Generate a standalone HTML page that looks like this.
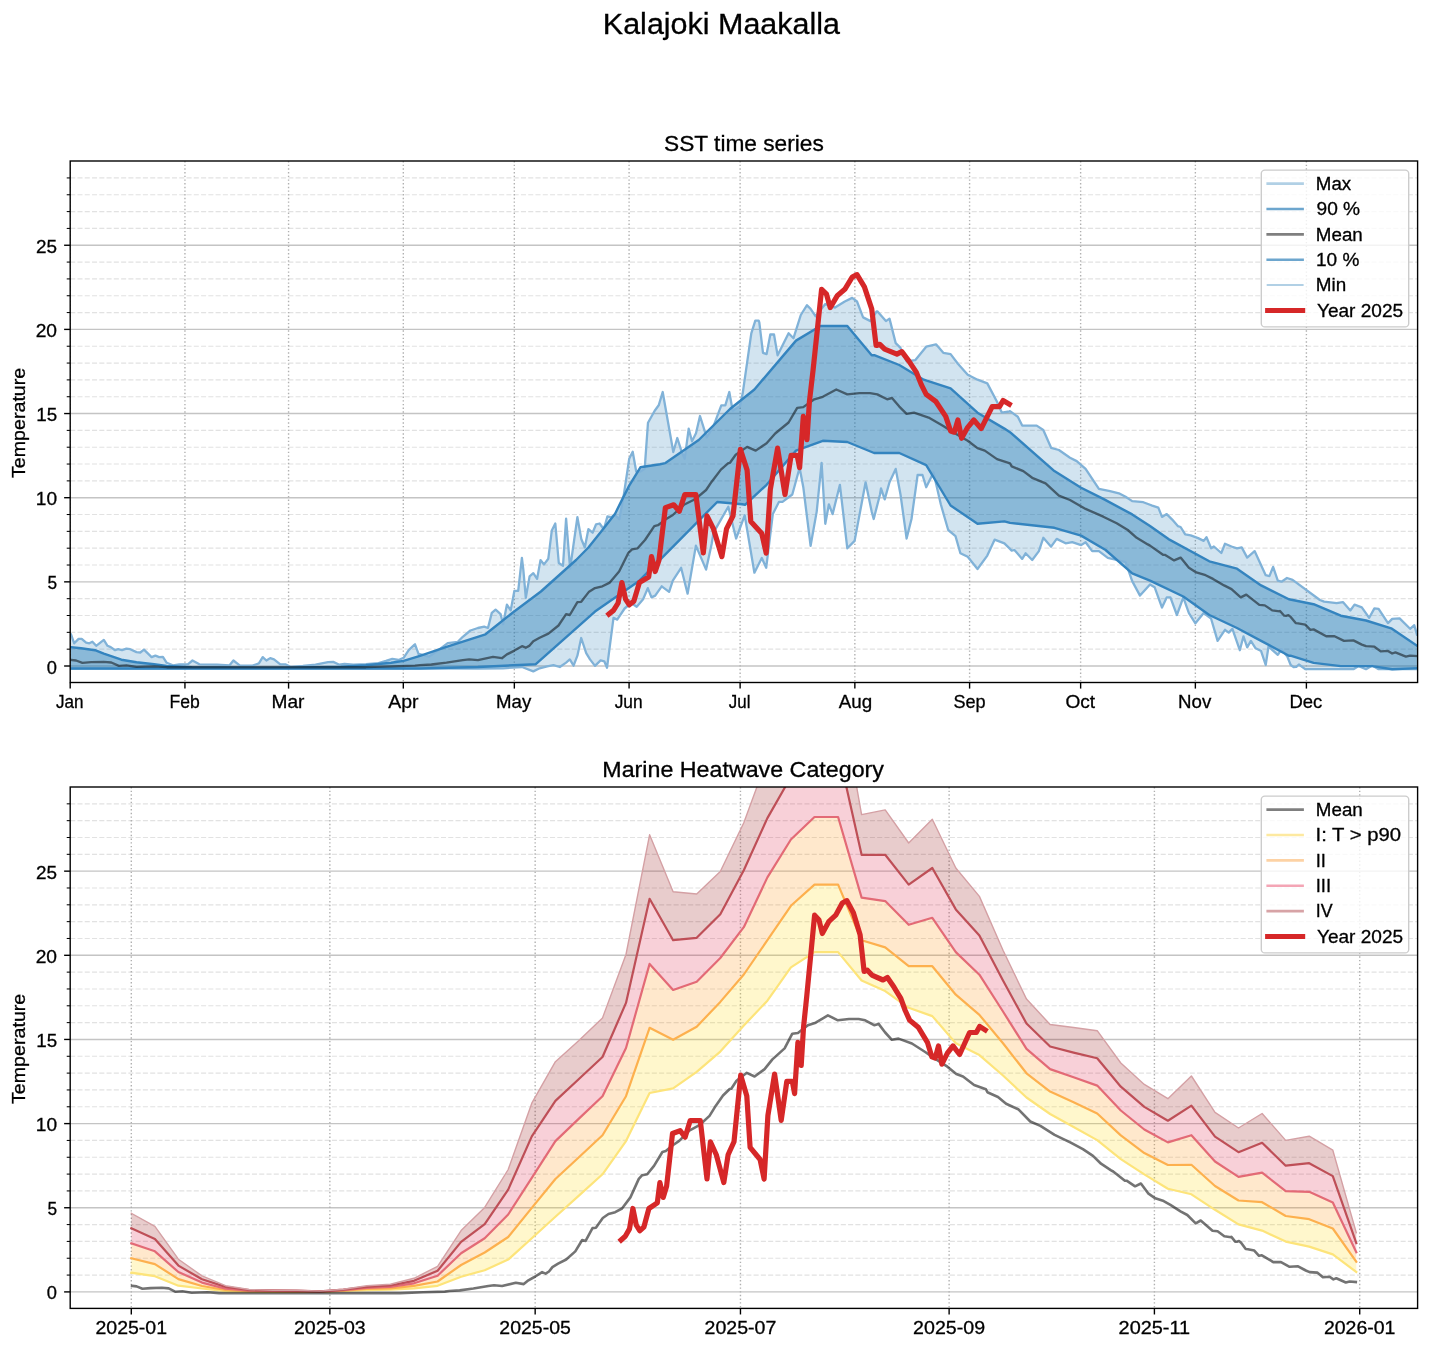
<!DOCTYPE html><html><head><meta charset="utf-8"><style>
html,body{margin:0;padding:0;background:#fff;}
svg{display:block;will-change:transform;}
text{font-family:"Liberation Sans",sans-serif;stroke:#000;stroke-width:0.3px;}
</style></head><body>
<svg width="1430" height="1350" viewBox="0 0 1430 1350">
<rect width="1430" height="1350" fill="#fff"/>
<defs>
<clipPath id="ct"><rect x="70.2" y="161.0" width="1347.3999999999999" height="521.5"/></clipPath>
<clipPath id="cb"><rect x="70.2" y="787.0" width="1347.3999999999999" height="521.4000000000001"/></clipPath>
</defs>
<text transform="translate(602.85,33.50) scale(1.0354,1)" font-size="29.44" fill="#000">Kalajoki Maakalla</text>
<text transform="translate(664.05,151.20) scale(1.0337,1)" font-size="21.96" fill="#000">SST time series</text>
<g clip-path="url(#ct)">
<line x1="70.2" x2="1417.6" y1="666.00" y2="666.00" stroke="#b0b0b0" stroke-opacity="0.75" stroke-width="1.39"/>
<line x1="70.2" x2="1417.6" y1="649.17" y2="649.17" stroke="#b0b0b0" stroke-opacity="0.36" stroke-width="1.15" stroke-dasharray="5.05 2.22"/>
<line x1="70.2" x2="1417.6" y1="632.34" y2="632.34" stroke="#b0b0b0" stroke-opacity="0.36" stroke-width="1.15" stroke-dasharray="5.05 2.22"/>
<line x1="70.2" x2="1417.6" y1="615.51" y2="615.51" stroke="#b0b0b0" stroke-opacity="0.36" stroke-width="1.15" stroke-dasharray="5.05 2.22"/>
<line x1="70.2" x2="1417.6" y1="598.68" y2="598.68" stroke="#b0b0b0" stroke-opacity="0.36" stroke-width="1.15" stroke-dasharray="5.05 2.22"/>
<line x1="70.2" x2="1417.6" y1="581.85" y2="581.85" stroke="#b0b0b0" stroke-opacity="0.75" stroke-width="1.39"/>
<line x1="70.2" x2="1417.6" y1="565.02" y2="565.02" stroke="#b0b0b0" stroke-opacity="0.36" stroke-width="1.15" stroke-dasharray="5.05 2.22"/>
<line x1="70.2" x2="1417.6" y1="548.19" y2="548.19" stroke="#b0b0b0" stroke-opacity="0.36" stroke-width="1.15" stroke-dasharray="5.05 2.22"/>
<line x1="70.2" x2="1417.6" y1="531.36" y2="531.36" stroke="#b0b0b0" stroke-opacity="0.36" stroke-width="1.15" stroke-dasharray="5.05 2.22"/>
<line x1="70.2" x2="1417.6" y1="514.53" y2="514.53" stroke="#b0b0b0" stroke-opacity="0.36" stroke-width="1.15" stroke-dasharray="5.05 2.22"/>
<line x1="70.2" x2="1417.6" y1="497.70" y2="497.70" stroke="#b0b0b0" stroke-opacity="0.75" stroke-width="1.39"/>
<line x1="70.2" x2="1417.6" y1="480.87" y2="480.87" stroke="#b0b0b0" stroke-opacity="0.36" stroke-width="1.15" stroke-dasharray="5.05 2.22"/>
<line x1="70.2" x2="1417.6" y1="464.04" y2="464.04" stroke="#b0b0b0" stroke-opacity="0.36" stroke-width="1.15" stroke-dasharray="5.05 2.22"/>
<line x1="70.2" x2="1417.6" y1="447.21" y2="447.21" stroke="#b0b0b0" stroke-opacity="0.36" stroke-width="1.15" stroke-dasharray="5.05 2.22"/>
<line x1="70.2" x2="1417.6" y1="430.38" y2="430.38" stroke="#b0b0b0" stroke-opacity="0.36" stroke-width="1.15" stroke-dasharray="5.05 2.22"/>
<line x1="70.2" x2="1417.6" y1="413.55" y2="413.55" stroke="#b0b0b0" stroke-opacity="0.75" stroke-width="1.39"/>
<line x1="70.2" x2="1417.6" y1="396.72" y2="396.72" stroke="#b0b0b0" stroke-opacity="0.36" stroke-width="1.15" stroke-dasharray="5.05 2.22"/>
<line x1="70.2" x2="1417.6" y1="379.89" y2="379.89" stroke="#b0b0b0" stroke-opacity="0.36" stroke-width="1.15" stroke-dasharray="5.05 2.22"/>
<line x1="70.2" x2="1417.6" y1="363.06" y2="363.06" stroke="#b0b0b0" stroke-opacity="0.36" stroke-width="1.15" stroke-dasharray="5.05 2.22"/>
<line x1="70.2" x2="1417.6" y1="346.23" y2="346.23" stroke="#b0b0b0" stroke-opacity="0.36" stroke-width="1.15" stroke-dasharray="5.05 2.22"/>
<line x1="70.2" x2="1417.6" y1="329.40" y2="329.40" stroke="#b0b0b0" stroke-opacity="0.75" stroke-width="1.39"/>
<line x1="70.2" x2="1417.6" y1="312.57" y2="312.57" stroke="#b0b0b0" stroke-opacity="0.36" stroke-width="1.15" stroke-dasharray="5.05 2.22"/>
<line x1="70.2" x2="1417.6" y1="295.74" y2="295.74" stroke="#b0b0b0" stroke-opacity="0.36" stroke-width="1.15" stroke-dasharray="5.05 2.22"/>
<line x1="70.2" x2="1417.6" y1="278.91" y2="278.91" stroke="#b0b0b0" stroke-opacity="0.36" stroke-width="1.15" stroke-dasharray="5.05 2.22"/>
<line x1="70.2" x2="1417.6" y1="262.08" y2="262.08" stroke="#b0b0b0" stroke-opacity="0.36" stroke-width="1.15" stroke-dasharray="5.05 2.22"/>
<line x1="70.2" x2="1417.6" y1="245.25" y2="245.25" stroke="#b0b0b0" stroke-opacity="0.75" stroke-width="1.39"/>
<line x1="70.2" x2="1417.6" y1="228.42" y2="228.42" stroke="#b0b0b0" stroke-opacity="0.36" stroke-width="1.15" stroke-dasharray="5.05 2.22"/>
<line x1="70.2" x2="1417.6" y1="211.59" y2="211.59" stroke="#b0b0b0" stroke-opacity="0.36" stroke-width="1.15" stroke-dasharray="5.05 2.22"/>
<line x1="70.2" x2="1417.6" y1="194.76" y2="194.76" stroke="#b0b0b0" stroke-opacity="0.36" stroke-width="1.15" stroke-dasharray="5.05 2.22"/>
<line x1="70.2" x2="1417.6" y1="177.93" y2="177.93" stroke="#b0b0b0" stroke-opacity="0.36" stroke-width="1.15" stroke-dasharray="5.05 2.22"/>
<line x1="70.20" x2="70.20" y1="161.0" y2="682.5" stroke="#b0b0b0" stroke-opacity="1" stroke-width="1.39" stroke-dasharray="1.39 2.29"/>
<line x1="184.94" x2="184.94" y1="161.0" y2="682.5" stroke="#b0b0b0" stroke-opacity="1" stroke-width="1.39" stroke-dasharray="1.39 2.29"/>
<line x1="288.57" x2="288.57" y1="161.0" y2="682.5" stroke="#b0b0b0" stroke-opacity="1" stroke-width="1.39" stroke-dasharray="1.39 2.29"/>
<line x1="403.31" x2="403.31" y1="161.0" y2="682.5" stroke="#b0b0b0" stroke-opacity="1" stroke-width="1.39" stroke-dasharray="1.39 2.29"/>
<line x1="514.34" x2="514.34" y1="161.0" y2="682.5" stroke="#b0b0b0" stroke-opacity="1" stroke-width="1.39" stroke-dasharray="1.39 2.29"/>
<line x1="629.08" x2="629.08" y1="161.0" y2="682.5" stroke="#b0b0b0" stroke-opacity="1" stroke-width="1.39" stroke-dasharray="1.39 2.29"/>
<line x1="740.12" x2="740.12" y1="161.0" y2="682.5" stroke="#b0b0b0" stroke-opacity="1" stroke-width="1.39" stroke-dasharray="1.39 2.29"/>
<line x1="854.85" x2="854.85" y1="161.0" y2="682.5" stroke="#b0b0b0" stroke-opacity="1" stroke-width="1.39" stroke-dasharray="1.39 2.29"/>
<line x1="969.59" x2="969.59" y1="161.0" y2="682.5" stroke="#b0b0b0" stroke-opacity="1" stroke-width="1.39" stroke-dasharray="1.39 2.29"/>
<line x1="1080.63" x2="1080.63" y1="161.0" y2="682.5" stroke="#b0b0b0" stroke-opacity="1" stroke-width="1.39" stroke-dasharray="1.39 2.29"/>
<line x1="1195.36" x2="1195.36" y1="161.0" y2="682.5" stroke="#b0b0b0" stroke-opacity="1" stroke-width="1.39" stroke-dasharray="1.39 2.29"/>
<line x1="1306.40" x2="1306.40" y1="161.0" y2="682.5" stroke="#b0b0b0" stroke-opacity="1" stroke-width="1.39" stroke-dasharray="1.39 2.29"/>
<path d="M71.0,634.5 L74.2,643.3 L78.6,638.9 L81.7,638.9 L86.1,642.7 L89.3,643.3 L92.4,641.7 L96.2,645.8 L103.8,639.9 L107.5,645.8 L110.7,647.1 L115.1,650.2 L118.2,649.2 L122.0,650.2 L126.4,648.7 L130.2,649.2 L136.5,652.1 L140.3,652.5 L144.0,649.6 L151.6,657.1 L155.4,655.6 L159.2,657.1 L162.9,656.8 L166.7,662.8 L173.0,665.3 L179.3,664.3 L188.1,664.1 L192.5,660.5 L199.4,664.3 L217.1,664.7 L229.6,665.3 L233.4,660.5 L239.7,665.3 L240.0,665.3 L252.6,665.6 L258.9,663.4 L262.7,657.1 L266.4,660.5 L270.2,658.1 L274.0,659.3 L280.3,664.3 L285.3,664.3 L290.4,666.8 L302.9,665.9 L315.5,664.7 L328.1,662.2 L333.2,661.9 L339.4,664.7 L344.5,663.8 L353.3,664.7 L365.9,664.1 L378.5,663.1 L386.0,660.9 L392.3,658.8 L398.6,660.0 L403.6,657.8 L408.7,650.2 L414.3,644.9 L415.0,644.3 L418.8,654.6 L418.8,653.8 L428.8,656.7 L437.7,650.6 L447.7,643.1 L457.8,641.8 L462.8,636.8 L470.4,630.5 L477.9,628.0 L484.2,626.7 L488.0,628.0 L491.8,612.9 L495.6,609.7 L500.6,614.1 L503.1,624.2 L506.9,604.7 L510.7,610.4 L514.4,590.8 L518.2,590.8 L521.9,558.0 L523.3,569.3 L525.8,597.8 L529.6,576.4 L533.3,573.2 L537.1,578.9 L540.5,560.1 L544.0,564.4 L548.3,558.7 L551.8,530.6 L555.3,523.5 L558.8,563.0 L563.0,565.8 L566.1,518.6 L570.1,568.6 L577.4,517.2 L581.3,539.0 L584.8,547.5 L588.4,529.2 L592.6,532.7 L596.1,524.3 L599.6,523.5 L603.8,529.2 L607.4,516.5 L610.9,517.2 L615.1,515.1 L619.3,519.3 L623.5,496.8 L629.2,458.8 L632.7,451.8 L636.2,471.5 L640.4,471.5 L644.7,468.7 L648.0,422.7 L654.7,410.7 L658.7,405.3 L662.7,392.0 L666.0,410.7 L673.3,452.0 L677.3,438.0 L681.3,450.7 L684.7,458.7 L688.7,428.7 L692.0,441.3 L696.0,433.3 L700.0,416.0 L706.7,437.3 L713.3,426.7 L721.3,405.3 L725.3,405.3 L729.3,392.0 L732.7,410.7 L740.0,406.0 L742.7,393.3 L751.3,333.3 L755.3,320.7 L758.7,320.7 L759.3,322.3 L763.0,352.8 L766.6,354.1 L770.3,334.5 L774.0,334.5 L777.6,355.3 L788.6,333.3 L793.5,338.2 L800.8,315.0 L807.0,305.2 L810.6,308.9 L815.5,316.2 L825.3,304.0 L835.0,307.6 L844.8,301.5 L852.2,297.9 L857.0,301.5 L863.1,317.4 L870.5,321.1 L876.6,311.3 L877.3,311.3 L885.9,321.1 L889.5,318.6 L895.7,343.1 L900.5,347.9 L906.6,361.4 L915.2,360.2 L926.2,346.7 L936.0,344.3 L943.3,352.8 L950.6,354.1 L957.9,363.8 L967.7,374.8 L977.5,379.7 L987.3,383.4 L997.0,401.7 L1001.9,412.7 L1009.3,411.5 L1010.0,411.1 L1017.8,416.7 L1022.2,425.6 L1036.7,425.6 L1043.3,430.0 L1051.1,447.8 L1058.9,450.0 L1070.0,457.8 L1076.7,461.1 L1085.6,468.9 L1098.9,488.9 L1110.0,491.1 L1118.9,493.3 L1125.6,496.7 L1132.2,501.1 L1143.3,502.2 L1150.0,504.8 L1152.2,505.6 L1158.3,507.6 L1162.0,516.9 L1166.7,514.1 L1172.2,519.6 L1177.8,526.1 L1180.6,527.0 L1185.2,534.4 L1190.7,535.4 L1198.1,538.1 L1203.7,540.9 L1206.5,537.2 L1211.1,548.3 L1213.9,546.5 L1221.3,553.0 L1225.0,543.7 L1231.5,546.5 L1237.0,548.3 L1241.7,547.4 L1247.2,557.6 L1254.6,551.1 L1265.7,575.2 L1269.4,576.1 L1273.1,566.9 L1277.8,580.7 L1281.5,581.7 L1287.0,578.0 L1292.6,579.8 L1319.9,600.0 L1324.1,601.6 L1336.6,603.1 L1342.9,602.1 L1350.3,610.5 L1354.5,604.7 L1361.8,607.3 L1369.2,617.8 L1374.4,608.4 L1378.6,608.9 L1388.0,623.1 L1392.2,618.9 L1399.6,618.4 L1410.1,628.8 L1414.3,625.2 L1416.9,634.6 L1416.9,669.2 L1378.6,669.2 L1372.3,665.6 L1366.0,669.2 L1358.7,666.1 L1353.4,669.2 L1305.2,669.2 L1298.9,664.5 L1296.3,666.9 L1293.6,667.1 L1290.7,665.0 L1287.3,656.6 L1281.5,649.3 L1277.8,654.8 L1268.5,646.5 L1265.7,665.0 L1261.1,651.1 L1255.6,648.3 L1250.9,640.9 L1247.2,647.4 L1243.5,636.3 L1239.8,650.2 L1232.4,628.9 L1228.7,632.6 L1225.0,629.8 L1217.6,640.9 L1211.1,618.7 L1203.7,613.1 L1195.4,623.3 L1188.9,613.1 L1183.3,597.4 L1176.9,615.0 L1170.4,597.4 L1166.7,597.4 L1162.0,607.6 L1154.6,587.2 L1150.0,584.4 L1140.0,595.6 L1132.2,581.1 L1125.6,562.2 L1116.7,560.0 L1107.8,557.8 L1098.9,551.1 L1092.2,551.1 L1085.6,542.2 L1081.1,545.1 L1072.2,542.2 L1065.6,543.3 L1056.7,538.9 L1051.1,546.7 L1043.3,537.8 L1038.9,551.1 L1032.2,560.0 L1025.6,553.3 L1022.2,558.9 L1014.4,550.0 L1011.7,550.7 L1010.0,548.9 L1004.4,543.4 L994.6,539.7 L987.3,555.6 L977.5,569.0 L967.7,556.8 L960.4,553.2 L955.5,536.1 L948.2,530.0 L940.8,504.3 L933.5,472.5 L926.2,487.2 L922.5,475.0 L917.6,475.0 L911.5,519.0 L906.6,538.5 L900.5,494.5 L895.7,468.9 L889.5,482.3 L884.7,499.4 L881.0,488.4 L880.0,494.5 L873.7,519.0 L871.7,511.6 L865.6,482.3 L854.6,540.9 L847.3,548.3 L839.9,484.8 L832.6,514.1 L828.9,504.3 L825.3,523.8 L821.6,462.8 L816.7,511.6 L810.6,545.8 L803.3,487.2 L799.6,467.7 L792.3,494.5 L782.5,501.9 L778.9,501.9 L772.8,514.1 L766.2,567.8 L761.8,558.0 L754.4,572.7 L744.7,515.3 L736.1,538.5 L728.3,506.7 L713.5,532.6 L711.7,543.7 L706.1,569.6 L695.9,545.6 L687.6,593.7 L681.1,567.8 L672.8,580.7 L669.1,591.9 L661.7,586.3 L655.2,595.6 L651.5,597.4 L647.8,588.1 L643.1,599.3 L636.7,606.7 L631.1,603.0 L624.6,608.5 L617.2,619.6 L613.5,617.8 L607.0,667.8 L604.3,661.3 L600.6,660.4 L595.0,665.9 L590.0,659.4 L586.2,653.2 L581.2,638.0 L577.4,655.7 L573.6,665.7 L569.8,659.4 L566.1,662.6 L559.8,667.0 L553.5,665.1 L547.2,666.4 L539.6,668.3 L533.3,671.4 L522.0,667.0 L503.1,668.3 L477.9,668.5 L415.0,668.3 L246.0,668.5 L71.0,668.5 Z" fill="#1f77b4" fill-opacity="0.2"/>
<path d="M71.0,647.1 L81.1,648.3 L95.0,650.2 L103.8,653.7 L121.4,659.7 L136.5,662.2 L154.1,664.3 L166.7,665.9 L191.9,667.3 L246.0,667.6 L290.4,667.6 L340.7,666.6 L365.9,665.3 L391.1,662.8 L403.6,660.9 L420.0,655.9 L446.5,646.9 L485.5,634.3 L513.2,612.2 L540.9,591.5 L576.1,560.0 L588.4,547.5 L602.4,529.9 L615.1,513.7 L622.1,499.6 L629.2,485.6 L640.4,467.3 L660.0,464.2 L665.4,463.1 L698.7,440.0 L730.0,409.0 L754.4,389.5 L796.0,340.6 L820.4,326.0 L847.3,326.0 L871.7,355.3 L874.9,355.3 L899.3,365.0 L923.7,379.7 L950.6,388.3 L977.5,412.7 L1004.4,428.6 L1010.0,432.2 L1054.4,471.1 L1081.1,487.8 L1103.3,498.9 L1132.2,514.4 L1150.0,526.1 L1168.5,539.1 L1209.3,561.3 L1237.0,568.7 L1261.1,585.4 L1288.9,599.3 L1313.6,604.2 L1340.8,615.7 L1366.0,620.5 L1391.2,628.3 L1416.9,645.6 L1416.9,668.2 L1392.2,669.2 L1372.3,666.1 L1340.8,666.1 L1313.6,662.9 L1290.5,655.6 L1288.9,655.7 L1261.1,640.9 L1237.0,628.0 L1209.3,615.0 L1183.3,596.5 L1150.0,580.7 L1132.2,573.3 L1105.6,550.0 L1081.1,535.6 L1054.4,527.8 L1010.0,522.9 L1004.4,521.4 L977.5,523.8 L950.6,505.5 L926.2,465.2 L899.3,453.0 L874.1,453.0 L847.3,442.0 L822.8,440.8 L796.0,450.6 L766.6,484.8 L745.0,504.8 L742.2,504.3 L717.2,502.0 L639.4,580.7 L595.0,611.6 L535.8,664.2 L477.9,667.0 L420.0,668.5 L246.0,668.5 L71.0,668.5 Z" fill="#1f77b4" fill-opacity="0.4"/>
<path d="M71.0,634.5 L74.2,643.3 L78.6,638.9 L81.7,638.9 L86.1,642.7 L89.3,643.3 L92.4,641.7 L96.2,645.8 L103.8,639.9 L107.5,645.8 L110.7,647.1 L115.1,650.2 L118.2,649.2 L122.0,650.2 L126.4,648.7 L130.2,649.2 L136.5,652.1 L140.3,652.5 L144.0,649.6 L151.6,657.1 L155.4,655.6 L159.2,657.1 L162.9,656.8 L166.7,662.8 L173.0,665.3 L179.3,664.3 L188.1,664.1 L192.5,660.5 L199.4,664.3 L217.1,664.7 L229.6,665.3 L233.4,660.5 L239.7,665.3 L240.0,665.3 L252.6,665.6 L258.9,663.4 L262.7,657.1 L266.4,660.5 L270.2,658.1 L274.0,659.3 L280.3,664.3 L285.3,664.3 L290.4,666.8 L302.9,665.9 L315.5,664.7 L328.1,662.2 L333.2,661.9 L339.4,664.7 L344.5,663.8 L353.3,664.7 L365.9,664.1 L378.5,663.1 L386.0,660.9 L392.3,658.8 L398.6,660.0 L403.6,657.8 L408.7,650.2 L414.3,644.9 L415.0,644.3 L418.8,654.6 L418.8,653.8 L428.8,656.7 L437.7,650.6 L447.7,643.1 L457.8,641.8 L462.8,636.8 L470.4,630.5 L477.9,628.0 L484.2,626.7 L488.0,628.0 L491.8,612.9 L495.6,609.7 L500.6,614.1 L503.1,624.2 L506.9,604.7 L510.7,610.4 L514.4,590.8 L518.2,590.8 L521.9,558.0 L523.3,569.3 L525.8,597.8 L529.6,576.4 L533.3,573.2 L537.1,578.9 L540.5,560.1 L544.0,564.4 L548.3,558.7 L551.8,530.6 L555.3,523.5 L558.8,563.0 L563.0,565.8 L566.1,518.6 L570.1,568.6 L577.4,517.2 L581.3,539.0 L584.8,547.5 L588.4,529.2 L592.6,532.7 L596.1,524.3 L599.6,523.5 L603.8,529.2 L607.4,516.5 L610.9,517.2 L615.1,515.1 L619.3,519.3 L623.5,496.8 L629.2,458.8 L632.7,451.8 L636.2,471.5 L640.4,471.5 L644.7,468.7 L648.0,422.7 L654.7,410.7 L658.7,405.3 L662.7,392.0 L666.0,410.7 L673.3,452.0 L677.3,438.0 L681.3,450.7 L684.7,458.7 L688.7,428.7 L692.0,441.3 L696.0,433.3 L700.0,416.0 L706.7,437.3 L713.3,426.7 L721.3,405.3 L725.3,405.3 L729.3,392.0 L732.7,410.7 L740.0,406.0 L742.7,393.3 L751.3,333.3 L755.3,320.7 L758.7,320.7 L759.3,322.3 L763.0,352.8 L766.6,354.1 L770.3,334.5 L774.0,334.5 L777.6,355.3 L788.6,333.3 L793.5,338.2 L800.8,315.0 L807.0,305.2 L810.6,308.9 L815.5,316.2 L825.3,304.0 L835.0,307.6 L844.8,301.5 L852.2,297.9 L857.0,301.5 L863.1,317.4 L870.5,321.1 L876.6,311.3 L877.3,311.3 L885.9,321.1 L889.5,318.6 L895.7,343.1 L900.5,347.9 L906.6,361.4 L915.2,360.2 L926.2,346.7 L936.0,344.3 L943.3,352.8 L950.6,354.1 L957.9,363.8 L967.7,374.8 L977.5,379.7 L987.3,383.4 L997.0,401.7 L1001.9,412.7 L1009.3,411.5 L1010.0,411.1 L1017.8,416.7 L1022.2,425.6 L1036.7,425.6 L1043.3,430.0 L1051.1,447.8 L1058.9,450.0 L1070.0,457.8 L1076.7,461.1 L1085.6,468.9 L1098.9,488.9 L1110.0,491.1 L1118.9,493.3 L1125.6,496.7 L1132.2,501.1 L1143.3,502.2 L1150.0,504.8 L1152.2,505.6 L1158.3,507.6 L1162.0,516.9 L1166.7,514.1 L1172.2,519.6 L1177.8,526.1 L1180.6,527.0 L1185.2,534.4 L1190.7,535.4 L1198.1,538.1 L1203.7,540.9 L1206.5,537.2 L1211.1,548.3 L1213.9,546.5 L1221.3,553.0 L1225.0,543.7 L1231.5,546.5 L1237.0,548.3 L1241.7,547.4 L1247.2,557.6 L1254.6,551.1 L1265.7,575.2 L1269.4,576.1 L1273.1,566.9 L1277.8,580.7 L1281.5,581.7 L1287.0,578.0 L1292.6,579.8 L1319.9,600.0 L1324.1,601.6 L1336.6,603.1 L1342.9,602.1 L1350.3,610.5 L1354.5,604.7 L1361.8,607.3 L1369.2,617.8 L1374.4,608.4 L1378.6,608.9 L1388.0,623.1 L1392.2,618.9 L1399.6,618.4 L1410.1,628.8 L1414.3,625.2 L1416.9,634.6" fill="none" stroke-linejoin="round" stroke-linecap="square" stroke="#80b2d8" stroke-width="2.3"/>
<path d="M71.0,668.5 L246.0,668.5 L415.0,668.3 L477.9,668.5 L503.1,668.3 L522.0,667.0 L533.3,671.4 L539.6,668.3 L547.2,666.4 L553.5,665.1 L559.8,667.0 L566.1,662.6 L569.8,659.4 L573.6,665.7 L577.4,655.7 L581.2,638.0 L586.2,653.2 L590.0,659.4 L595.0,665.9 L600.6,660.4 L604.3,661.3 L607.0,667.8 L613.5,617.8 L617.2,619.6 L624.6,608.5 L631.1,603.0 L636.7,606.7 L643.1,599.3 L647.8,588.1 L651.5,597.4 L655.2,595.6 L661.7,586.3 L669.1,591.9 L672.8,580.7 L681.1,567.8 L687.6,593.7 L695.9,545.6 L706.1,569.6 L711.7,543.7 L713.5,532.6 L728.3,506.7 L736.1,538.5 L744.7,515.3 L754.4,572.7 L761.8,558.0 L766.2,567.8 L772.8,514.1 L778.9,501.9 L782.5,501.9 L792.3,494.5 L799.6,467.7 L803.3,487.2 L810.6,545.8 L816.7,511.6 L821.6,462.8 L825.3,523.8 L828.9,504.3 L832.6,514.1 L839.9,484.8 L847.3,548.3 L854.6,540.9 L865.6,482.3 L871.7,511.6 L873.7,519.0 L880.0,494.5 L881.0,488.4 L884.7,499.4 L889.5,482.3 L895.7,468.9 L900.5,494.5 L906.6,538.5 L911.5,519.0 L917.6,475.0 L922.5,475.0 L926.2,487.2 L933.5,472.5 L940.8,504.3 L948.2,530.0 L955.5,536.1 L960.4,553.2 L967.7,556.8 L977.5,569.0 L987.3,555.6 L994.6,539.7 L1004.4,543.4 L1010.0,548.9 L1011.7,550.7 L1014.4,550.0 L1022.2,558.9 L1025.6,553.3 L1032.2,560.0 L1038.9,551.1 L1043.3,537.8 L1051.1,546.7 L1056.7,538.9 L1065.6,543.3 L1072.2,542.2 L1081.1,545.1 L1085.6,542.2 L1092.2,551.1 L1098.9,551.1 L1107.8,557.8 L1116.7,560.0 L1125.6,562.2 L1132.2,581.1 L1140.0,595.6 L1150.0,584.4 L1154.6,587.2 L1162.0,607.6 L1166.7,597.4 L1170.4,597.4 L1176.9,615.0 L1183.3,597.4 L1188.9,613.1 L1195.4,623.3 L1203.7,613.1 L1211.1,618.7 L1217.6,640.9 L1225.0,629.8 L1228.7,632.6 L1232.4,628.9 L1239.8,650.2 L1243.5,636.3 L1247.2,647.4 L1250.9,640.9 L1255.6,648.3 L1261.1,651.1 L1265.7,665.0 L1268.5,646.5 L1277.8,654.8 L1281.5,649.3 L1287.3,656.6 L1290.7,665.0 L1293.6,667.1 L1296.3,666.9 L1298.9,664.5 L1305.2,669.2 L1353.4,669.2 L1358.7,666.1 L1366.0,669.2 L1372.3,665.6 L1378.6,669.2 L1416.9,669.2" fill="none" stroke-linejoin="round" stroke-linecap="square" stroke="#80b2d8" stroke-width="2.3"/>
<path d="M71.0,647.1 L81.1,648.3 L95.0,650.2 L103.8,653.7 L121.4,659.7 L136.5,662.2 L154.1,664.3 L166.7,665.9 L191.9,667.3 L246.0,667.6 L290.4,667.6 L340.7,666.6 L365.9,665.3 L391.1,662.8 L403.6,660.9 L420.0,655.9 L446.5,646.9 L485.5,634.3 L513.2,612.2 L540.9,591.5 L576.1,560.0 L588.4,547.5 L602.4,529.9 L615.1,513.7 L622.1,499.6 L629.2,485.6 L640.4,467.3 L660.0,464.2 L665.4,463.1 L698.7,440.0 L730.0,409.0 L754.4,389.5 L796.0,340.6 L820.4,326.0 L847.3,326.0 L871.7,355.3 L874.9,355.3 L899.3,365.0 L923.7,379.7 L950.6,388.3 L977.5,412.7 L1004.4,428.6 L1010.0,432.2 L1054.4,471.1 L1081.1,487.8 L1103.3,498.9 L1132.2,514.4 L1150.0,526.1 L1168.5,539.1 L1209.3,561.3 L1237.0,568.7 L1261.1,585.4 L1288.9,599.3 L1313.6,604.2 L1340.8,615.7 L1366.0,620.5 L1391.2,628.3 L1416.9,645.6" fill="none" stroke-linejoin="round" stroke-linecap="square" stroke="#3484bf" stroke-width="2.4"/>
<path d="M71.0,668.5 L246.0,668.5 L420.0,668.5 L477.9,667.0 L535.8,664.2 L595.0,611.6 L639.4,580.7 L717.2,502.0 L742.2,504.3 L745.0,504.8 L766.6,484.8 L796.0,450.6 L822.8,440.8 L847.3,442.0 L874.1,453.0 L899.3,453.0 L926.2,465.2 L950.6,505.5 L977.5,523.8 L1004.4,521.4 L1010.0,522.9 L1054.4,527.8 L1081.1,535.6 L1105.6,550.0 L1132.2,573.3 L1150.0,580.7 L1183.3,596.5 L1209.3,615.0 L1237.0,628.0 L1261.1,640.9 L1288.9,655.7 L1290.5,655.6 L1313.6,662.9 L1340.8,666.1 L1372.3,666.1 L1392.2,669.2 L1416.9,668.2" fill="none" stroke-linejoin="round" stroke-linecap="square" stroke="#3484bf" stroke-width="2.4"/>
<path d="M71.0,660.0 L76.1,660.5 L82.4,662.8 L91.2,662.2 L103.8,661.8 L111.3,662.5 L118.9,665.9 L126.4,665.3 L136.5,666.8 L154.1,666.3 L166.7,667.2 L191.9,667.2 L246.0,667.2 L365.9,667.2 L391.1,666.3 L415.0,665.7 L420.0,665.1 L431.4,664.5 L446.5,662.6 L462.8,660.1 L469.1,659.4 L477.9,660.1 L493.0,656.9 L501.9,658.2 L506.9,654.4 L514.4,650.6 L522.0,646.2 L525.8,647.7 L529.6,645.6 L533.3,641.2 L539.6,637.8 L548.4,633.6 L558.5,625.5 L566.1,614.1 L569.8,615.0 L577.4,602.2 L581.2,601.8 L588.7,592.1 L595.0,588.1 L602.4,586.3 L609.8,582.6 L619.1,571.5 L628.3,553.0 L632.0,549.3 L637.6,548.3 L645.0,540.0 L654.3,526.1 L658.0,525.2 L665.4,519.6 L672.8,515.0 L683.9,504.8 L695.0,499.3 L706.1,490.0 L711.7,481.7 L720.9,469.6 L728.3,463.1 L730.0,462.8 L735.7,454.8 L747.1,446.9 L755.7,450.6 L766.6,443.2 L775.2,433.5 L788.6,422.5 L797.2,407.8 L803.3,407.1 L814.3,399.3 L822.8,396.8 L836.3,389.5 L847.3,394.4 L859.5,393.1 L870.0,393.1 L877.3,394.4 L887.1,399.3 L892.0,398.0 L899.3,406.6 L906.6,413.9 L914.0,412.7 L928.6,417.6 L943.3,426.1 L953.1,432.2 L967.7,440.8 L977.5,448.1 L984.8,450.6 L997.0,459.1 L1010.0,463.3 L1011.7,466.4 L1023.3,471.1 L1032.2,477.8 L1045.6,483.3 L1058.9,495.6 L1070.0,500.0 L1085.6,508.9 L1103.3,516.7 L1116.7,523.3 L1127.8,530.0 L1136.7,537.8 L1147.8,544.4 L1150.0,545.6 L1163.0,554.8 L1164.8,554.8 L1174.1,560.4 L1180.6,557.6 L1188.9,567.8 L1196.3,572.4 L1205.6,575.2 L1213.0,578.9 L1224.1,585.4 L1231.5,589.1 L1240.7,597.4 L1246.3,594.6 L1259.3,604.8 L1264.8,605.4 L1272.2,610.4 L1279.6,611.3 L1280.0,611.0 L1284.2,615.7 L1286.1,615.9 L1288.4,615.2 L1290.7,616.9 L1295.7,623.1 L1298.1,623.3 L1305.2,624.7 L1310.4,629.9 L1313.6,629.4 L1326.2,636.2 L1334.5,636.2 L1344.0,640.9 L1353.4,640.4 L1361.8,644.6 L1366.0,646.2 L1374.4,646.7 L1380.7,651.4 L1388.0,650.9 L1392.2,653.5 L1395.4,652.4 L1405.9,656.6 L1410.1,655.6 L1416.9,656.1" fill="none" stroke-linejoin="round" stroke-linecap="square" stroke="#000" stroke-opacity="0.5" stroke-width="2.35"/>
<path d="M608.9,614.1 L613.5,610.4 L618.1,603.0 L621.9,582.6 L625.6,599.3 L629.3,604.8 L633.9,601.1 L639.4,582.6 L648.7,577.0 L651.5,556.7 L655.2,571.5 L658.9,560.4 L665.4,507.6 L673.7,504.8 L679.3,511.3 L684.8,494.6 L695.9,494.6 L703.3,553.0 L707.0,515.9 L713.5,528.9 L721.9,556.7 L726.5,528.9 L733.0,515.9 L740.4,449.3 L747.1,470.1 L750.8,521.4 L761.8,533.6 L766.2,553.2 L770.3,489.6 L777.6,448.1 L785.0,494.5 L791.1,455.4 L797.2,455.4 L799.6,467.7 L803.3,416.4 L807.0,439.6 L809.4,401.7 L813.1,369.9 L821.6,289.3 L826.5,294.2 L830.2,307.6 L837.5,295.4 L844.8,289.3 L852.2,277.1 L857.0,274.7 L864.4,286.9 L871.7,308.9 L876.1,345.5 L876.6,345.5 L879.8,344.3 L884.7,349.2 L896.9,354.1 L901.8,351.6 L909.1,361.4 L916.4,372.4 L921.3,384.6 L926.2,394.4 L936.0,401.7 L945.7,416.4 L950.6,431.0 L954.3,432.2 L957.9,420.0 L961.6,438.3 L967.7,427.3 L973.8,420.0 L981.2,428.6 L992.2,406.6 L999.5,406.6 L1003.1,400.5 L1009.3,404.1" fill="none" stroke-linejoin="round" stroke-linecap="square" stroke="#d62728" stroke-width="5.2"/>
</g>
<line x1="64.12" x2="70.2" y1="666.00" y2="666.00" stroke="#000" stroke-width="1.39"/>
<text transform="translate(46.84,673.50) scale(0.9948,1)" font-size="18.40" fill="#000">0</text>
<line x1="66.73" x2="70.2" y1="649.17" y2="649.17" stroke="#000" stroke-width="1.04"/>
<line x1="66.73" x2="70.2" y1="632.34" y2="632.34" stroke="#000" stroke-width="1.04"/>
<line x1="66.73" x2="70.2" y1="615.51" y2="615.51" stroke="#000" stroke-width="1.04"/>
<line x1="66.73" x2="70.2" y1="598.68" y2="598.68" stroke="#000" stroke-width="1.04"/>
<line x1="64.12" x2="70.2" y1="581.85" y2="581.85" stroke="#000" stroke-width="1.39"/>
<text transform="translate(47.42,589.35) scale(0.9387,1)" font-size="18.40" fill="#000">5</text>
<line x1="66.73" x2="70.2" y1="565.02" y2="565.02" stroke="#000" stroke-width="1.04"/>
<line x1="66.73" x2="70.2" y1="548.19" y2="548.19" stroke="#000" stroke-width="1.04"/>
<line x1="66.73" x2="70.2" y1="531.36" y2="531.36" stroke="#000" stroke-width="1.04"/>
<line x1="66.73" x2="70.2" y1="514.53" y2="514.53" stroke="#000" stroke-width="1.04"/>
<line x1="64.12" x2="70.2" y1="497.70" y2="497.70" stroke="#000" stroke-width="1.39"/>
<text transform="translate(35.81,505.20) scale(1.0376,1)" font-size="18.40" fill="#000">10</text>
<line x1="66.73" x2="70.2" y1="480.87" y2="480.87" stroke="#000" stroke-width="1.04"/>
<line x1="66.73" x2="70.2" y1="464.04" y2="464.04" stroke="#000" stroke-width="1.04"/>
<line x1="66.73" x2="70.2" y1="447.21" y2="447.21" stroke="#000" stroke-width="1.04"/>
<line x1="66.73" x2="70.2" y1="430.38" y2="430.38" stroke="#000" stroke-width="1.04"/>
<line x1="64.12" x2="70.2" y1="413.55" y2="413.55" stroke="#000" stroke-width="1.39"/>
<text transform="translate(36.20,421.05) scale(1.0207,1)" font-size="18.40" fill="#000">15</text>
<line x1="66.73" x2="70.2" y1="396.72" y2="396.72" stroke="#000" stroke-width="1.04"/>
<line x1="66.73" x2="70.2" y1="379.89" y2="379.89" stroke="#000" stroke-width="1.04"/>
<line x1="66.73" x2="70.2" y1="363.06" y2="363.06" stroke="#000" stroke-width="1.04"/>
<line x1="66.73" x2="70.2" y1="346.23" y2="346.23" stroke="#000" stroke-width="1.04"/>
<line x1="64.12" x2="70.2" y1="329.40" y2="329.40" stroke="#000" stroke-width="1.39"/>
<text transform="translate(35.67,336.90) scale(1.0450,1)" font-size="18.40" fill="#000">20</text>
<line x1="66.73" x2="70.2" y1="312.57" y2="312.57" stroke="#000" stroke-width="1.04"/>
<line x1="66.73" x2="70.2" y1="295.74" y2="295.74" stroke="#000" stroke-width="1.04"/>
<line x1="66.73" x2="70.2" y1="278.91" y2="278.91" stroke="#000" stroke-width="1.04"/>
<line x1="66.73" x2="70.2" y1="262.08" y2="262.08" stroke="#000" stroke-width="1.04"/>
<line x1="64.12" x2="70.2" y1="245.25" y2="245.25" stroke="#000" stroke-width="1.39"/>
<text transform="translate(36.05,252.75) scale(1.0285,1)" font-size="18.40" fill="#000">25</text>
<line x1="66.73" x2="70.2" y1="228.42" y2="228.42" stroke="#000" stroke-width="1.04"/>
<line x1="66.73" x2="70.2" y1="211.59" y2="211.59" stroke="#000" stroke-width="1.04"/>
<line x1="66.73" x2="70.2" y1="194.76" y2="194.76" stroke="#000" stroke-width="1.04"/>
<line x1="66.73" x2="70.2" y1="177.93" y2="177.93" stroke="#000" stroke-width="1.04"/>
<line x1="70.20" x2="70.20" y1="682.5" y2="688.58" stroke="#000" stroke-width="1.39"/>
<text transform="translate(55.94,708.20) scale(0.9292,1)" font-size="18.40" fill="#000">Jan</text>
<line x1="184.94" x2="184.94" y1="682.5" y2="688.58" stroke="#000" stroke-width="1.39"/>
<text transform="translate(169.46,708.20) scale(0.9544,1)" font-size="18.40" fill="#000">Feb</text>
<line x1="288.57" x2="288.57" y1="682.5" y2="688.58" stroke="#000" stroke-width="1.39"/>
<text transform="translate(271.48,708.20) scale(1.0395,1)" font-size="18.40" fill="#000">Mar</text>
<line x1="403.31" x2="403.31" y1="682.5" y2="688.58" stroke="#000" stroke-width="1.39"/>
<text transform="translate(388.32,708.20) scale(1.0569,1)" font-size="18.40" fill="#000">Apr</text>
<line x1="514.34" x2="514.34" y1="682.5" y2="688.58" stroke="#000" stroke-width="1.39"/>
<text transform="translate(495.98,708.20) scale(1.0138,1)" font-size="18.40" fill="#000">May</text>
<line x1="629.08" x2="629.08" y1="682.5" y2="688.58" stroke="#000" stroke-width="1.39"/>
<text transform="translate(614.64,708.20) scale(0.9421,1)" font-size="18.40" fill="#000">Jun</text>
<line x1="740.12" x2="740.12" y1="682.5" y2="688.58" stroke="#000" stroke-width="1.39"/>
<text transform="translate(728.85,708.20) scale(0.9189,1)" font-size="18.40" fill="#000">Jul</text>
<line x1="854.85" x2="854.85" y1="682.5" y2="688.58" stroke="#000" stroke-width="1.39"/>
<text transform="translate(838.72,708.20) scale(1.0214,1)" font-size="18.40" fill="#000">Aug</text>
<line x1="969.59" x2="969.59" y1="682.5" y2="688.58" stroke="#000" stroke-width="1.39"/>
<text transform="translate(953.46,708.20) scale(0.9840,1)" font-size="18.40" fill="#000">Sep</text>
<line x1="1080.63" x2="1080.63" y1="682.5" y2="688.58" stroke="#000" stroke-width="1.39"/>
<text transform="translate(1065.41,708.20) scale(1.0367,1)" font-size="18.40" fill="#000">Oct</text>
<line x1="1195.36" x2="1195.36" y1="682.5" y2="688.58" stroke="#000" stroke-width="1.39"/>
<text transform="translate(1178.00,708.20) scale(1.0166,1)" font-size="18.40" fill="#000">Nov</text>
<line x1="1306.40" x2="1306.40" y1="682.5" y2="688.58" stroke="#000" stroke-width="1.39"/>
<text transform="translate(1289.48,708.20) scale(1.0030,1)" font-size="18.40" fill="#000">Dec</text>
<rect x="70.2" y="161.0" width="1347.40" height="521.50" fill="none" stroke="#000" stroke-width="1.39" stroke-linejoin="miter"/>
<text transform="translate(25.00,423.05) rotate(-90) translate(-55.04,0) scale(1.0691,1)" font-size="18.40" fill="#000">Temperature</text>
<rect x="1261.3" y="170.1" width="147.4" height="156.8" rx="3.5" ry="3.5" fill="#fff" fill-opacity="0.8" stroke="#cccccc" stroke-width="1.39"/>
<line x1="1267.7" x2="1302.6" y1="183.60" y2="183.60" stroke="#1f77b4" stroke-opacity="0.35" stroke-width="2.6" stroke-linecap="square"/>
<text transform="translate(1315.86,189.80) scale(1.0173,1)" font-size="18.40" fill="#000">Max</text>
<line x1="1267.7" x2="1302.6" y1="208.98" y2="208.98" stroke="#1f77b4" stroke-opacity="0.65" stroke-width="2.6" stroke-linecap="square"/>
<text transform="translate(1316.50,215.18) scale(1.0405,1)" font-size="18.40" fill="#000">90 %</text>
<line x1="1267.7" x2="1302.6" y1="234.36" y2="234.36" stroke="#000" stroke-opacity="0.5" stroke-width="2.6" stroke-linecap="square"/>
<text transform="translate(1315.86,240.56) scale(1.0186,1)" font-size="18.40" fill="#000">Mean</text>
<line x1="1267.7" x2="1302.6" y1="259.74" y2="259.74" stroke="#1f77b4" stroke-opacity="0.65" stroke-width="2.6" stroke-linecap="square"/>
<text transform="translate(1315.95,265.94) scale(1.0342,1)" font-size="18.40" fill="#000">10 %</text>
<line x1="1267.7" x2="1302.6" y1="285.12" y2="285.12" stroke="#1f77b4" stroke-opacity="0.35" stroke-width="2.0" stroke-linecap="square"/>
<text transform="translate(1315.85,291.32) scale(1.0255,1)" font-size="18.40" fill="#000">Min</text>
<line x1="1267.7" x2="1302.6" y1="310.50" y2="310.50" stroke="#d62728" stroke-opacity="1" stroke-width="5.2" stroke-linecap="square"/>
<text transform="translate(1316.98,316.70) scale(1.0358,1)" font-size="18.40" fill="#000">Year 2025</text>
<text transform="translate(602.29,777.20) scale(1.0586,1)" font-size="21.96" fill="#000">Marine Heatwave Category</text>
<g clip-path="url(#cb)">
<line x1="70.2" x2="1417.6" y1="1291.90" y2="1291.90" stroke="#b0b0b0" stroke-opacity="0.75" stroke-width="1.39"/>
<line x1="70.2" x2="1417.6" y1="1275.07" y2="1275.07" stroke="#b0b0b0" stroke-opacity="0.36" stroke-width="1.15" stroke-dasharray="5.05 2.22"/>
<line x1="70.2" x2="1417.6" y1="1258.24" y2="1258.24" stroke="#b0b0b0" stroke-opacity="0.36" stroke-width="1.15" stroke-dasharray="5.05 2.22"/>
<line x1="70.2" x2="1417.6" y1="1241.41" y2="1241.41" stroke="#b0b0b0" stroke-opacity="0.36" stroke-width="1.15" stroke-dasharray="5.05 2.22"/>
<line x1="70.2" x2="1417.6" y1="1224.58" y2="1224.58" stroke="#b0b0b0" stroke-opacity="0.36" stroke-width="1.15" stroke-dasharray="5.05 2.22"/>
<line x1="70.2" x2="1417.6" y1="1207.75" y2="1207.75" stroke="#b0b0b0" stroke-opacity="0.75" stroke-width="1.39"/>
<line x1="70.2" x2="1417.6" y1="1190.92" y2="1190.92" stroke="#b0b0b0" stroke-opacity="0.36" stroke-width="1.15" stroke-dasharray="5.05 2.22"/>
<line x1="70.2" x2="1417.6" y1="1174.09" y2="1174.09" stroke="#b0b0b0" stroke-opacity="0.36" stroke-width="1.15" stroke-dasharray="5.05 2.22"/>
<line x1="70.2" x2="1417.6" y1="1157.26" y2="1157.26" stroke="#b0b0b0" stroke-opacity="0.36" stroke-width="1.15" stroke-dasharray="5.05 2.22"/>
<line x1="70.2" x2="1417.6" y1="1140.43" y2="1140.43" stroke="#b0b0b0" stroke-opacity="0.36" stroke-width="1.15" stroke-dasharray="5.05 2.22"/>
<line x1="70.2" x2="1417.6" y1="1123.60" y2="1123.60" stroke="#b0b0b0" stroke-opacity="0.75" stroke-width="1.39"/>
<line x1="70.2" x2="1417.6" y1="1106.77" y2="1106.77" stroke="#b0b0b0" stroke-opacity="0.36" stroke-width="1.15" stroke-dasharray="5.05 2.22"/>
<line x1="70.2" x2="1417.6" y1="1089.94" y2="1089.94" stroke="#b0b0b0" stroke-opacity="0.36" stroke-width="1.15" stroke-dasharray="5.05 2.22"/>
<line x1="70.2" x2="1417.6" y1="1073.11" y2="1073.11" stroke="#b0b0b0" stroke-opacity="0.36" stroke-width="1.15" stroke-dasharray="5.05 2.22"/>
<line x1="70.2" x2="1417.6" y1="1056.28" y2="1056.28" stroke="#b0b0b0" stroke-opacity="0.36" stroke-width="1.15" stroke-dasharray="5.05 2.22"/>
<line x1="70.2" x2="1417.6" y1="1039.45" y2="1039.45" stroke="#b0b0b0" stroke-opacity="0.75" stroke-width="1.39"/>
<line x1="70.2" x2="1417.6" y1="1022.62" y2="1022.62" stroke="#b0b0b0" stroke-opacity="0.36" stroke-width="1.15" stroke-dasharray="5.05 2.22"/>
<line x1="70.2" x2="1417.6" y1="1005.79" y2="1005.79" stroke="#b0b0b0" stroke-opacity="0.36" stroke-width="1.15" stroke-dasharray="5.05 2.22"/>
<line x1="70.2" x2="1417.6" y1="988.96" y2="988.96" stroke="#b0b0b0" stroke-opacity="0.36" stroke-width="1.15" stroke-dasharray="5.05 2.22"/>
<line x1="70.2" x2="1417.6" y1="972.13" y2="972.13" stroke="#b0b0b0" stroke-opacity="0.36" stroke-width="1.15" stroke-dasharray="5.05 2.22"/>
<line x1="70.2" x2="1417.6" y1="955.30" y2="955.30" stroke="#b0b0b0" stroke-opacity="0.75" stroke-width="1.39"/>
<line x1="70.2" x2="1417.6" y1="938.47" y2="938.47" stroke="#b0b0b0" stroke-opacity="0.36" stroke-width="1.15" stroke-dasharray="5.05 2.22"/>
<line x1="70.2" x2="1417.6" y1="921.64" y2="921.64" stroke="#b0b0b0" stroke-opacity="0.36" stroke-width="1.15" stroke-dasharray="5.05 2.22"/>
<line x1="70.2" x2="1417.6" y1="904.81" y2="904.81" stroke="#b0b0b0" stroke-opacity="0.36" stroke-width="1.15" stroke-dasharray="5.05 2.22"/>
<line x1="70.2" x2="1417.6" y1="887.98" y2="887.98" stroke="#b0b0b0" stroke-opacity="0.36" stroke-width="1.15" stroke-dasharray="5.05 2.22"/>
<line x1="70.2" x2="1417.6" y1="871.15" y2="871.15" stroke="#b0b0b0" stroke-opacity="0.75" stroke-width="1.39"/>
<line x1="70.2" x2="1417.6" y1="854.32" y2="854.32" stroke="#b0b0b0" stroke-opacity="0.36" stroke-width="1.15" stroke-dasharray="5.05 2.22"/>
<line x1="70.2" x2="1417.6" y1="837.49" y2="837.49" stroke="#b0b0b0" stroke-opacity="0.36" stroke-width="1.15" stroke-dasharray="5.05 2.22"/>
<line x1="70.2" x2="1417.6" y1="820.66" y2="820.66" stroke="#b0b0b0" stroke-opacity="0.36" stroke-width="1.15" stroke-dasharray="5.05 2.22"/>
<line x1="70.2" x2="1417.6" y1="803.83" y2="803.83" stroke="#b0b0b0" stroke-opacity="0.36" stroke-width="1.15" stroke-dasharray="5.05 2.22"/>
<line x1="131.30" x2="131.30" y1="787.0" y2="1308.4" stroke="#b0b0b0" stroke-opacity="1" stroke-width="1.39" stroke-dasharray="1.39 2.29"/>
<line x1="329.86" x2="329.86" y1="787.0" y2="1308.4" stroke="#b0b0b0" stroke-opacity="1" stroke-width="1.39" stroke-dasharray="1.39 2.29"/>
<line x1="535.16" x2="535.16" y1="787.0" y2="1308.4" stroke="#b0b0b0" stroke-opacity="1" stroke-width="1.39" stroke-dasharray="1.39 2.29"/>
<line x1="740.46" x2="740.46" y1="787.0" y2="1308.4" stroke="#b0b0b0" stroke-opacity="1" stroke-width="1.39" stroke-dasharray="1.39 2.29"/>
<line x1="949.12" x2="949.12" y1="787.0" y2="1308.4" stroke="#b0b0b0" stroke-opacity="1" stroke-width="1.39" stroke-dasharray="1.39 2.29"/>
<line x1="1154.41" x2="1154.41" y1="787.0" y2="1308.4" stroke="#b0b0b0" stroke-opacity="1" stroke-width="1.39" stroke-dasharray="1.39 2.29"/>
<line x1="1359.71" x2="1359.71" y1="787.0" y2="1308.4" stroke="#b0b0b0" stroke-opacity="1" stroke-width="1.39" stroke-dasharray="1.39 2.29"/>
<path d="M131.3,1272.7 L154.9,1276.2 L178.4,1285.7 L202.0,1288.5 L225.5,1291.2 L249.1,1291.6 L272.7,1291.9 L296.2,1291.9 L319.8,1291.9 L343.3,1290.9 L366.9,1290.2 L390.4,1289.7 L414.0,1288.4 L437.6,1285.8 L461.1,1276.8 L484.7,1270.2 L508.2,1259.6 L531.8,1238.2 L555.4,1216.8 L578.9,1195.6 L602.5,1174.3 L626.0,1141.1 L649.6,1093.0 L673.1,1088.3 L696.7,1071.8 L720.3,1051.6 L743.8,1025.5 L767.4,1000.7 L790.9,967.4 L814.5,952.1 L838.1,952.1 L861.6,980.5 L885.2,991.1 L908.7,1007.8 L932.3,1016.1 L955.8,1043.3 L979.4,1055.1 L1003.0,1075.5 L1026.5,1097.5 L1050.1,1114.0 L1073.6,1127.0 L1097.2,1140.1 L1120.8,1159.1 L1144.3,1174.4 L1167.9,1188.7 L1191.4,1194.3 L1215.0,1209.8 L1238.5,1224.4 L1262.1,1230.6 L1285.7,1241.6 L1309.2,1246.6 L1332.8,1254.4 L1356.3,1272.0 L1356.3,1261.8 L1332.8,1228.5 L1309.2,1219.2 L1285.7,1216.0 L1262.1,1202.2 L1238.5,1200.5 L1215.0,1186.0 L1191.4,1164.8 L1167.9,1165.0 L1144.3,1153.1 L1120.8,1135.4 L1097.2,1113.5 L1073.6,1102.2 L1050.1,1091.6 L1026.5,1073.3 L1003.0,1043.3 L979.4,1014.9 L955.8,994.7 L932.3,966.2 L908.7,966.2 L885.2,947.4 L861.6,940.2 L838.1,884.6 L814.5,884.6 L790.9,905.8 L767.4,940.2 L743.8,974.5 L720.3,1001.9 L696.7,1026.7 L673.1,1039.8 L649.6,1027.8 L626.0,1096.2 L602.5,1135.2 L578.9,1157.3 L555.4,1179.0 L531.8,1207.9 L508.2,1237.0 L484.7,1252.5 L461.1,1265.0 L437.6,1281.5 L414.0,1285.8 L390.4,1288.4 L366.9,1289.0 L343.3,1290.6 L319.8,1291.7 L296.2,1291.6 L272.7,1291.4 L249.1,1291.1 L225.5,1290.0 L202.0,1286.0 L178.4,1279.1 L154.9,1264.1 L131.3,1258.2 Z" fill="#ffd700" fill-opacity="0.2"/>
<path d="M131.3,1258.2 L154.9,1264.1 L178.4,1279.1 L202.0,1286.0 L225.5,1290.0 L249.1,1291.1 L272.7,1291.4 L296.2,1291.6 L319.8,1291.7 L343.3,1290.6 L366.9,1289.0 L390.4,1288.4 L414.0,1285.8 L437.6,1281.5 L461.1,1265.0 L484.7,1252.5 L508.2,1237.0 L531.8,1207.9 L555.4,1179.0 L578.9,1157.3 L602.5,1135.2 L626.0,1096.2 L649.6,1027.8 L673.1,1039.8 L696.7,1026.7 L720.3,1001.9 L743.8,974.5 L767.4,940.2 L790.9,905.8 L814.5,884.6 L838.1,884.6 L861.6,940.2 L885.2,947.4 L908.7,966.2 L932.3,966.2 L955.8,994.7 L979.4,1014.9 L1003.0,1043.3 L1026.5,1073.3 L1050.1,1091.6 L1073.6,1102.2 L1097.2,1113.5 L1120.8,1135.4 L1144.3,1153.1 L1167.9,1165.0 L1191.4,1164.8 L1215.0,1186.0 L1238.5,1200.5 L1262.1,1202.2 L1285.7,1216.0 L1309.2,1219.2 L1332.8,1228.5 L1356.3,1261.8 L1356.3,1252.3 L1332.8,1202.5 L1309.2,1191.8 L1285.7,1191.1 L1262.1,1172.6 L1238.5,1176.8 L1215.0,1161.5 L1191.4,1135.2 L1167.9,1142.4 L1144.3,1129.5 L1120.8,1110.5 L1097.2,1085.6 L1073.6,1077.3 L1050.1,1069.1 L1026.5,1048.9 L1003.0,1011.5 L979.4,974.7 L955.8,952.1 L932.3,917.8 L908.7,924.8 L885.2,901.1 L861.6,897.6 L838.1,817.0 L814.5,817.0 L790.9,839.5 L767.4,877.4 L743.8,927.2 L720.3,958.0 L696.7,981.7 L673.1,990.0 L649.6,963.9 L626.0,1048.0 L602.5,1096.2 L578.9,1118.6 L555.4,1141.1 L531.8,1177.8 L508.2,1214.5 L484.7,1238.2 L461.1,1253.2 L437.6,1275.7 L414.0,1283.3 L390.4,1286.9 L366.9,1288.0 L343.3,1290.2 L319.8,1291.6 L296.2,1291.1 L272.7,1290.9 L249.1,1290.6 L225.5,1288.7 L202.0,1282.6 L178.4,1272.0 L154.9,1251.3 L131.3,1243.4 Z" fill="#ff8c00" fill-opacity="0.2"/>
<path d="M131.3,1243.4 L154.9,1251.3 L178.4,1272.0 L202.0,1282.6 L225.5,1288.7 L249.1,1290.6 L272.7,1290.9 L296.2,1291.1 L319.8,1291.6 L343.3,1290.2 L366.9,1288.0 L390.4,1286.9 L414.0,1283.3 L437.6,1275.7 L461.1,1253.2 L484.7,1238.2 L508.2,1214.5 L531.8,1177.8 L555.4,1141.1 L578.9,1118.6 L602.5,1096.2 L626.0,1048.0 L649.6,963.9 L673.1,990.0 L696.7,981.7 L720.3,958.0 L743.8,927.2 L767.4,877.4 L790.9,839.5 L814.5,817.0 L838.1,817.0 L861.6,897.6 L885.2,901.1 L908.7,924.8 L932.3,917.8 L955.8,952.1 L979.4,974.7 L1003.0,1011.5 L1026.5,1048.9 L1050.1,1069.1 L1073.6,1077.3 L1097.2,1085.6 L1120.8,1110.5 L1144.3,1129.5 L1167.9,1142.4 L1191.4,1135.2 L1215.0,1161.5 L1238.5,1176.8 L1262.1,1172.6 L1285.7,1191.1 L1309.2,1191.8 L1332.8,1202.5 L1356.3,1252.3 L1356.3,1243.1 L1332.8,1176.1 L1309.2,1163.2 L1285.7,1165.7 L1262.1,1142.8 L1238.5,1152.2 L1215.0,1136.6 L1191.4,1105.6 L1167.9,1120.7 L1144.3,1106.9 L1120.8,1086.7 L1097.2,1058.3 L1073.6,1052.6 L1050.1,1046.5 L1026.5,1023.5 L1003.0,980.5 L979.4,935.4 L955.8,909.4 L932.3,868.0 L908.7,884.6 L885.2,854.8 L861.6,854.8 L838.1,750.0 L814.5,750.0 L790.9,776.9 L767.4,818.1 L743.8,870.3 L720.3,914.2 L696.7,937.8 L673.1,940.2 L649.6,898.8 L626.0,1002.9 L602.5,1057.0 L578.9,1079.0 L555.4,1100.9 L531.8,1136.4 L508.2,1189.6 L484.7,1224.1 L461.1,1241.9 L437.6,1270.7 L414.0,1280.8 L390.4,1285.5 L366.9,1286.9 L343.3,1289.7 L319.8,1291.4 L296.2,1290.6 L272.7,1290.4 L249.1,1290.0 L225.5,1286.9 L202.0,1279.3 L178.4,1265.6 L154.9,1239.1 L131.3,1228.3 Z" fill="#dc143c" fill-opacity="0.2"/>
<path d="M131.3,1228.3 L154.9,1239.1 L178.4,1265.6 L202.0,1279.3 L225.5,1286.9 L249.1,1290.0 L272.7,1290.4 L296.2,1290.6 L319.8,1291.4 L343.3,1289.7 L366.9,1286.9 L390.4,1285.5 L414.0,1280.8 L437.6,1270.7 L461.1,1241.9 L484.7,1224.1 L508.2,1189.6 L531.8,1136.4 L555.4,1100.9 L578.9,1079.0 L602.5,1057.0 L626.0,1002.9 L649.6,898.8 L673.1,940.2 L696.7,937.8 L720.3,914.2 L743.8,870.3 L767.4,818.1 L790.9,776.9 L814.5,750.0 L838.1,750.0 L861.6,854.8 L885.2,854.8 L908.7,884.6 L932.3,868.0 L955.8,909.4 L979.4,935.4 L1003.0,980.5 L1026.5,1023.5 L1050.1,1046.5 L1073.6,1052.6 L1097.2,1058.3 L1120.8,1086.7 L1144.3,1106.9 L1167.9,1120.7 L1191.4,1105.6 L1215.0,1136.6 L1238.5,1152.2 L1262.1,1142.8 L1285.7,1165.7 L1309.2,1163.2 L1332.8,1176.1 L1356.3,1243.1 L1356.3,1232.7 L1332.8,1150.2 L1309.2,1136.2 L1285.7,1140.4 L1262.1,1113.5 L1238.5,1128.0 L1215.0,1112.3 L1191.4,1076.0 L1167.9,1098.7 L1144.3,1084.4 L1120.8,1063.0 L1097.2,1030.7 L1073.6,1027.5 L1050.1,1024.5 L1026.5,999.1 L1003.0,950.3 L979.4,896.4 L955.8,868.0 L932.3,819.3 L908.7,843.0 L885.2,809.9 L861.6,814.6 L838.1,682.7 L814.5,682.7 L790.9,714.6 L767.4,758.4 L743.8,822.8 L720.3,871.5 L696.7,894.0 L673.1,891.7 L649.6,834.8 L626.0,954.5 L602.5,1017.9 L578.9,1040.5 L555.4,1061.7 L531.8,1103.2 L508.2,1169.5 L484.7,1207.4 L461.1,1230.6 L437.6,1266.3 L414.0,1278.3 L390.4,1284.2 L366.9,1285.7 L343.3,1289.2 L319.8,1291.1 L296.2,1290.2 L272.7,1290.2 L249.1,1289.5 L225.5,1285.7 L202.0,1275.9 L178.4,1259.2 L154.9,1226.4 L131.3,1213.3 Z" fill="#8b0000" fill-opacity="0.2"/>
<path d="M131.3,1272.7 L154.9,1276.2 L178.4,1285.7 L202.0,1288.5 L225.5,1291.2 L249.1,1291.6 L272.7,1291.9 L296.2,1291.9 L319.8,1291.9 L343.3,1290.9 L366.9,1290.2 L390.4,1289.7 L414.0,1288.4 L437.6,1285.8 L461.1,1276.8 L484.7,1270.2 L508.2,1259.6 L531.8,1238.2 L555.4,1216.8 L578.9,1195.6 L602.5,1174.3 L626.0,1141.1 L649.6,1093.0 L673.1,1088.3 L696.7,1071.8 L720.3,1051.6 L743.8,1025.5 L767.4,1000.7 L790.9,967.4 L814.5,952.1 L838.1,952.1 L861.6,980.5 L885.2,991.1 L908.7,1007.8 L932.3,1016.1 L955.8,1043.3 L979.4,1055.1 L1003.0,1075.5 L1026.5,1097.5 L1050.1,1114.0 L1073.6,1127.0 L1097.2,1140.1 L1120.8,1159.1 L1144.3,1174.4 L1167.9,1188.7 L1191.4,1194.3 L1215.0,1209.8 L1238.5,1224.4 L1262.1,1230.6 L1285.7,1241.6 L1309.2,1246.6 L1332.8,1254.4 L1356.3,1272.0" fill="none" stroke-linejoin="round" stroke-linecap="square" stroke="#fde47a" stroke-width="2.2"/>
<path d="M131.3,1258.2 L154.9,1264.1 L178.4,1279.1 L202.0,1286.0 L225.5,1290.0 L249.1,1291.1 L272.7,1291.4 L296.2,1291.6 L319.8,1291.7 L343.3,1290.6 L366.9,1289.0 L390.4,1288.4 L414.0,1285.8 L437.6,1281.5 L461.1,1265.0 L484.7,1252.5 L508.2,1237.0 L531.8,1207.9 L555.4,1179.0 L578.9,1157.3 L602.5,1135.2 L626.0,1096.2 L649.6,1027.8 L673.1,1039.8 L696.7,1026.7 L720.3,1001.9 L743.8,974.5 L767.4,940.2 L790.9,905.8 L814.5,884.6 L838.1,884.6 L861.6,940.2 L885.2,947.4 L908.7,966.2 L932.3,966.2 L955.8,994.7 L979.4,1014.9 L1003.0,1043.3 L1026.5,1073.3 L1050.1,1091.6 L1073.6,1102.2 L1097.2,1113.5 L1120.8,1135.4 L1144.3,1153.1 L1167.9,1165.0 L1191.4,1164.8 L1215.0,1186.0 L1238.5,1200.5 L1262.1,1202.2 L1285.7,1216.0 L1309.2,1219.2 L1332.8,1228.5 L1356.3,1261.8" fill="none" stroke-linejoin="round" stroke-linecap="square" stroke="#fdb04e" stroke-width="2.2"/>
<path d="M131.3,1243.4 L154.9,1251.3 L178.4,1272.0 L202.0,1282.6 L225.5,1288.7 L249.1,1290.6 L272.7,1290.9 L296.2,1291.1 L319.8,1291.6 L343.3,1290.2 L366.9,1288.0 L390.4,1286.9 L414.0,1283.3 L437.6,1275.7 L461.1,1253.2 L484.7,1238.2 L508.2,1214.5 L531.8,1177.8 L555.4,1141.1 L578.9,1118.6 L602.5,1096.2 L626.0,1048.0 L649.6,963.9 L673.1,990.0 L696.7,981.7 L720.3,958.0 L743.8,927.2 L767.4,877.4 L790.9,839.5 L814.5,817.0 L838.1,817.0 L861.6,897.6 L885.2,901.1 L908.7,924.8 L932.3,917.8 L955.8,952.1 L979.4,974.7 L1003.0,1011.5 L1026.5,1048.9 L1050.1,1069.1 L1073.6,1077.3 L1097.2,1085.6 L1120.8,1110.5 L1144.3,1129.5 L1167.9,1142.4 L1191.4,1135.2 L1215.0,1161.5 L1238.5,1176.8 L1262.1,1172.6 L1285.7,1191.1 L1309.2,1191.8 L1332.8,1202.5 L1356.3,1252.3" fill="none" stroke-linejoin="round" stroke-linecap="square" stroke="#e36a76" stroke-width="2.2"/>
<path d="M131.3,1228.3 L154.9,1239.1 L178.4,1265.6 L202.0,1279.3 L225.5,1286.9 L249.1,1290.0 L272.7,1290.4 L296.2,1290.6 L319.8,1291.4 L343.3,1289.7 L366.9,1286.9 L390.4,1285.5 L414.0,1280.8 L437.6,1270.7 L461.1,1241.9 L484.7,1224.1 L508.2,1189.6 L531.8,1136.4 L555.4,1100.9 L578.9,1079.0 L602.5,1057.0 L626.0,1002.9 L649.6,898.8 L673.1,940.2 L696.7,937.8 L720.3,914.2 L743.8,870.3 L767.4,818.1 L790.9,776.9 L814.5,750.0 L838.1,750.0 L861.6,854.8 L885.2,854.8 L908.7,884.6 L932.3,868.0 L955.8,909.4 L979.4,935.4 L1003.0,980.5 L1026.5,1023.5 L1050.1,1046.5 L1073.6,1052.6 L1097.2,1058.3 L1120.8,1086.7 L1144.3,1106.9 L1167.9,1120.7 L1191.4,1105.6 L1215.0,1136.6 L1238.5,1152.2 L1262.1,1142.8 L1285.7,1165.7 L1309.2,1163.2 L1332.8,1176.1 L1356.3,1243.1" fill="none" stroke-linejoin="round" stroke-linecap="square" stroke="#be4f57" stroke-width="2.2"/>
<path d="M131.3,1213.3 L154.9,1226.4 L178.4,1259.2 L202.0,1275.9 L225.5,1285.7 L249.1,1289.5 L272.7,1290.2 L296.2,1290.2 L319.8,1291.1 L343.3,1289.2 L366.9,1285.7 L390.4,1284.2 L414.0,1278.3 L437.6,1266.3 L461.1,1230.6 L484.7,1207.4 L508.2,1169.5 L531.8,1103.2 L555.4,1061.7 L578.9,1040.5 L602.5,1017.9 L626.0,954.5 L649.6,834.8 L673.1,891.7 L696.7,894.0 L720.3,871.5 L743.8,822.8 L767.4,758.4 L790.9,714.6 L814.5,682.7 L838.1,682.7 L861.6,814.6 L885.2,809.9 L908.7,843.0 L932.3,819.3 L955.8,868.0 L979.4,896.4 L1003.0,950.3 L1026.5,999.1 L1050.1,1024.5 L1073.6,1027.5 L1097.2,1030.7 L1120.8,1063.0 L1144.3,1084.4 L1167.9,1098.7 L1191.4,1076.0 L1215.0,1112.3 L1238.5,1128.0 L1262.1,1113.5 L1285.7,1140.4 L1309.2,1136.2 L1332.8,1150.2 L1356.3,1232.7" fill="none" stroke-linejoin="round" stroke-linecap="square" stroke="#d4a0a4" stroke-width="1.4"/>
<path d="M132.1,1285.9 L136.6,1286.4 L142.4,1288.7 L150.4,1288.1 L161.8,1287.7 L168.7,1288.4 L175.6,1291.8 L182.4,1291.2 L191.6,1292.7 L207.6,1292.2 L219.1,1293.1 L241.9,1293.1 L291.2,1293.1 L400.2,1293.1 L423.1,1292.2 L444.8,1291.6 L449.4,1291.0 L459.7,1290.4 L473.4,1288.5 L488.3,1286.0 L494.0,1285.3 L502.1,1286.0 L515.8,1282.8 L523.8,1284.1 L528.4,1280.3 L535.3,1276.5 L542.1,1272.1 L545.6,1273.6 L549.0,1271.5 L552.4,1267.1 L558.1,1263.7 L566.2,1259.5 L575.3,1251.4 L582.2,1240.0 L585.6,1240.9 L592.5,1228.1 L595.9,1227.7 L602.8,1218.0 L608.5,1214.0 L615.2,1212.2 L622.0,1208.5 L630.4,1197.4 L638.8,1178.9 L642.2,1175.2 L647.2,1174.2 L654.0,1165.9 L662.4,1152.0 L665.8,1151.1 L672.5,1145.5 L679.2,1140.9 L689.3,1130.7 L699.4,1125.2 L709.5,1115.9 L714.6,1107.6 L723.0,1095.5 L729.7,1089.0 L731.3,1088.7 L736.5,1080.7 L746.8,1072.8 L754.6,1076.5 L764.6,1069.1 L772.4,1059.4 L784.6,1048.4 L792.3,1033.7 L797.9,1033.0 L807.9,1025.2 L815.7,1022.7 L827.9,1015.4 L837.9,1020.3 L849.0,1019.0 L858.6,1019.0 L865.2,1020.3 L874.1,1025.2 L878.6,1023.9 L885.2,1032.5 L891.9,1039.8 L898.5,1038.6 L911.9,1043.5 L925.2,1052.0 L934.1,1058.1 L947.4,1066.7 L956.3,1074.0 L963.0,1076.5 L974.1,1085.0 L985.9,1089.2 L987.4,1092.3 L998.0,1097.0 L1006.1,1103.7 L1018.2,1109.2 L1030.3,1121.5 L1040.4,1125.9 L1054.6,1134.8 L1070.7,1142.6 L1082.9,1149.2 L1093.0,1155.9 L1101.0,1163.7 L1111.1,1170.3 L1113.2,1171.5 L1124.9,1180.7 L1126.6,1180.7 L1135.1,1186.3 L1140.9,1183.5 L1148.5,1193.7 L1155.3,1198.3 L1163.7,1201.1 L1170.4,1204.8 L1180.5,1211.3 L1187.3,1215.0 L1195.7,1223.3 L1200.7,1220.5 L1212.5,1230.7 L1217.6,1231.3 L1224.3,1236.3 L1231.0,1237.2 L1231.4,1236.9 L1235.2,1241.6 L1236.9,1241.8 L1239.0,1241.1 L1241.1,1242.8 L1245.7,1249.0 L1247.9,1249.2 L1254.3,1250.6 L1259.0,1255.8 L1261.9,1255.3 L1273.3,1262.1 L1281.0,1262.1 L1289.6,1266.8 L1298.1,1266.3 L1305.8,1270.5 L1309.6,1272.1 L1317.2,1272.6 L1322.9,1277.3 L1329.6,1276.8 L1333.4,1279.4 L1336.3,1278.3 L1345.8,1282.5 L1349.6,1281.5 L1355.8,1282.0" fill="none" stroke-linejoin="round" stroke-linecap="square" stroke="#000" stroke-opacity="0.55" stroke-width="2.6"/>
<path d="M621.1,1240.0 L625.3,1236.3 L629.5,1228.9 L632.9,1208.5 L636.3,1225.2 L639.7,1230.7 L643.9,1227.0 L648.9,1208.5 L657.3,1202.9 L659.9,1182.6 L663.2,1197.4 L666.6,1186.3 L672.5,1133.5 L680.1,1130.7 L685.1,1137.2 L690.2,1120.5 L700.3,1120.5 L707.0,1178.9 L710.4,1141.8 L716.3,1154.8 L723.8,1182.6 L728.1,1154.8 L734.0,1141.8 L740.7,1075.2 L746.8,1096.0 L750.1,1147.3 L760.1,1159.5 L764.1,1179.1 L767.9,1115.5 L774.6,1074.0 L781.2,1120.4 L786.8,1081.3 L792.3,1081.3 L794.6,1093.6 L797.9,1042.3 L801.2,1065.5 L803.5,1027.6 L806.8,995.8 L814.6,915.2 L819.0,920.1 L822.3,933.5 L829.0,921.3 L835.7,915.2 L842.3,903.0 L846.8,900.6 L853.4,912.8 L860.1,934.8 L864.1,971.4 L864.5,971.4 L867.4,970.2 L871.9,975.1 L883.0,980.0 L887.4,977.5 L894.1,987.3 L900.8,998.3 L905.2,1010.5 L909.7,1020.3 L918.5,1027.6 L927.4,1042.3 L931.9,1056.9 L935.2,1058.1 L938.5,1045.9 L941.9,1064.2 L947.4,1053.2 L953.0,1045.9 L959.6,1054.5 L969.6,1032.5 L976.3,1032.5 L979.6,1026.4 L985.2,1030.0" fill="none" stroke-linejoin="round" stroke-linecap="square" stroke="#d62728" stroke-width="5.2"/>
</g>
<line x1="64.12" x2="70.2" y1="1291.90" y2="1291.90" stroke="#000" stroke-width="1.39"/>
<text transform="translate(46.84,1299.40) scale(0.9948,1)" font-size="18.40" fill="#000">0</text>
<line x1="66.73" x2="70.2" y1="1275.07" y2="1275.07" stroke="#000" stroke-width="1.04"/>
<line x1="66.73" x2="70.2" y1="1258.24" y2="1258.24" stroke="#000" stroke-width="1.04"/>
<line x1="66.73" x2="70.2" y1="1241.41" y2="1241.41" stroke="#000" stroke-width="1.04"/>
<line x1="66.73" x2="70.2" y1="1224.58" y2="1224.58" stroke="#000" stroke-width="1.04"/>
<line x1="64.12" x2="70.2" y1="1207.75" y2="1207.75" stroke="#000" stroke-width="1.39"/>
<text transform="translate(47.42,1215.25) scale(0.9387,1)" font-size="18.40" fill="#000">5</text>
<line x1="66.73" x2="70.2" y1="1190.92" y2="1190.92" stroke="#000" stroke-width="1.04"/>
<line x1="66.73" x2="70.2" y1="1174.09" y2="1174.09" stroke="#000" stroke-width="1.04"/>
<line x1="66.73" x2="70.2" y1="1157.26" y2="1157.26" stroke="#000" stroke-width="1.04"/>
<line x1="66.73" x2="70.2" y1="1140.43" y2="1140.43" stroke="#000" stroke-width="1.04"/>
<line x1="64.12" x2="70.2" y1="1123.60" y2="1123.60" stroke="#000" stroke-width="1.39"/>
<text transform="translate(35.81,1131.10) scale(1.0376,1)" font-size="18.40" fill="#000">10</text>
<line x1="66.73" x2="70.2" y1="1106.77" y2="1106.77" stroke="#000" stroke-width="1.04"/>
<line x1="66.73" x2="70.2" y1="1089.94" y2="1089.94" stroke="#000" stroke-width="1.04"/>
<line x1="66.73" x2="70.2" y1="1073.11" y2="1073.11" stroke="#000" stroke-width="1.04"/>
<line x1="66.73" x2="70.2" y1="1056.28" y2="1056.28" stroke="#000" stroke-width="1.04"/>
<line x1="64.12" x2="70.2" y1="1039.45" y2="1039.45" stroke="#000" stroke-width="1.39"/>
<text transform="translate(36.20,1046.95) scale(1.0207,1)" font-size="18.40" fill="#000">15</text>
<line x1="66.73" x2="70.2" y1="1022.62" y2="1022.62" stroke="#000" stroke-width="1.04"/>
<line x1="66.73" x2="70.2" y1="1005.79" y2="1005.79" stroke="#000" stroke-width="1.04"/>
<line x1="66.73" x2="70.2" y1="988.96" y2="988.96" stroke="#000" stroke-width="1.04"/>
<line x1="66.73" x2="70.2" y1="972.13" y2="972.13" stroke="#000" stroke-width="1.04"/>
<line x1="64.12" x2="70.2" y1="955.30" y2="955.30" stroke="#000" stroke-width="1.39"/>
<text transform="translate(35.67,962.80) scale(1.0450,1)" font-size="18.40" fill="#000">20</text>
<line x1="66.73" x2="70.2" y1="938.47" y2="938.47" stroke="#000" stroke-width="1.04"/>
<line x1="66.73" x2="70.2" y1="921.64" y2="921.64" stroke="#000" stroke-width="1.04"/>
<line x1="66.73" x2="70.2" y1="904.81" y2="904.81" stroke="#000" stroke-width="1.04"/>
<line x1="66.73" x2="70.2" y1="887.98" y2="887.98" stroke="#000" stroke-width="1.04"/>
<line x1="64.12" x2="70.2" y1="871.15" y2="871.15" stroke="#000" stroke-width="1.39"/>
<text transform="translate(36.05,878.65) scale(1.0285,1)" font-size="18.40" fill="#000">25</text>
<line x1="66.73" x2="70.2" y1="854.32" y2="854.32" stroke="#000" stroke-width="1.04"/>
<line x1="66.73" x2="70.2" y1="837.49" y2="837.49" stroke="#000" stroke-width="1.04"/>
<line x1="66.73" x2="70.2" y1="820.66" y2="820.66" stroke="#000" stroke-width="1.04"/>
<line x1="66.73" x2="70.2" y1="803.83" y2="803.83" stroke="#000" stroke-width="1.04"/>
<line x1="131.30" x2="131.30" y1="1308.4" y2="1314.48" stroke="#000" stroke-width="1.39"/>
<text transform="translate(95.49,1334.40) scale(1.0604,1)" font-size="18.40" fill="#000">2025-01</text>
<line x1="329.86" x2="329.86" y1="1308.4" y2="1314.48" stroke="#000" stroke-width="1.39"/>
<text transform="translate(293.95,1334.40) scale(1.0622,1)" font-size="18.40" fill="#000">2025-03</text>
<line x1="535.16" x2="535.16" y1="1308.4" y2="1314.48" stroke="#000" stroke-width="1.39"/>
<text transform="translate(499.31,1334.40) scale(1.0597,1)" font-size="18.40" fill="#000">2025-05</text>
<line x1="740.46" x2="740.46" y1="1308.4" y2="1314.48" stroke="#000" stroke-width="1.39"/>
<text transform="translate(704.58,1334.40) scale(1.0626,1)" font-size="18.40" fill="#000">2025-07</text>
<line x1="949.12" x2="949.12" y1="1308.4" y2="1314.48" stroke="#000" stroke-width="1.39"/>
<text transform="translate(913.11,1334.40) scale(1.0658,1)" font-size="18.40" fill="#000">2025-09</text>
<line x1="1154.41" x2="1154.41" y1="1308.4" y2="1314.48" stroke="#000" stroke-width="1.39"/>
<text transform="translate(1118.58,1334.40) scale(1.0827,1)" font-size="18.40" fill="#000">2025-11</text>
<line x1="1359.71" x2="1359.71" y1="1308.4" y2="1314.48" stroke="#000" stroke-width="1.39"/>
<text transform="translate(1323.90,1334.40) scale(1.0604,1)" font-size="18.40" fill="#000">2026-01</text>
<rect x="70.2" y="787.0" width="1347.40" height="521.40" fill="none" stroke="#000" stroke-width="1.39" stroke-linejoin="miter"/>
<text transform="translate(25.00,1049.00) rotate(-90) translate(-55.04,0) scale(1.0691,1)" font-size="18.40" fill="#000">Temperature</text>
<rect x="1261.3" y="796.1" width="147.4" height="156.8" rx="3.5" ry="3.5" fill="#fff" fill-opacity="0.8" stroke="#cccccc" stroke-width="1.39"/>
<line x1="1267.7" x2="1302.6" y1="809.60" y2="809.60" stroke="#000" stroke-opacity="0.5" stroke-width="2.6" stroke-linecap="square"/>
<text transform="translate(1315.86,815.80) scale(1.0186,1)" font-size="18.40" fill="#000">Mean</text>
<line x1="1267.7" x2="1302.6" y1="834.98" y2="834.98" stroke="#fde9a0" stroke-opacity="1" stroke-width="2.6" stroke-linecap="square"/>
<text transform="translate(1315.53,841.18) scale(1.1032,1)" font-size="18.40" fill="#000">I: T &gt; p90</text>
<line x1="1267.7" x2="1302.6" y1="860.36" y2="860.36" stroke="#fdd2a4" stroke-opacity="1" stroke-width="2.6" stroke-linecap="square"/>
<text transform="translate(1315.70,866.56) scale(1.0006,1)" font-size="18.40" fill="#000">II</text>
<line x1="1267.7" x2="1302.6" y1="885.74" y2="885.74" stroke="#f4a5b5" stroke-opacity="1" stroke-width="2.6" stroke-linecap="square"/>
<text transform="translate(1315.70,891.94) scale(1.0011,1)" font-size="18.40" fill="#000">III</text>
<line x1="1267.7" x2="1302.6" y1="911.12" y2="911.12" stroke="#d7a3a6" stroke-opacity="1" stroke-width="2.6" stroke-linecap="square"/>
<text transform="translate(1315.75,917.32) scale(0.9708,1)" font-size="18.40" fill="#000">IV</text>
<line x1="1267.7" x2="1302.6" y1="936.50" y2="936.50" stroke="#d62728" stroke-opacity="1" stroke-width="5.2" stroke-linecap="square"/>
<text transform="translate(1316.98,942.70) scale(1.0358,1)" font-size="18.40" fill="#000">Year 2025</text>
</svg></body></html>
